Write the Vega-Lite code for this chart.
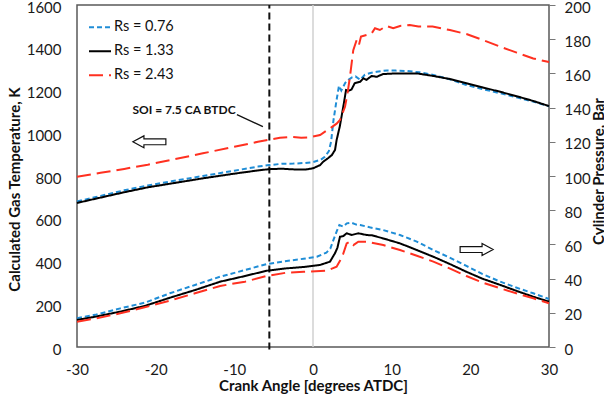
{
  "$schema": "https://vega.github.io/schema/vega-lite/v6.json",
  "width": 472,
  "height": 342,
  "autosize": "none",
  "padding": {"left": 77, "top": 5, "right": 55, "bottom": 51},
  "background": "white",
  "config": {
    "font": "Lato",
    "view": {"stroke": "#5a5a5a", "strokeWidth": 1.5},
    "axis": {"grid": false, "domain": false, "labelFont": "Lato", "labelFontSize": 15, "labelColor": "#1a1a1a", "titleFont": "Lato", "titleFontSize": 15, "titleFontWeight": "bold", "titleColor": "#111111"}
  },
  "datasets": {
    "temp": [
      {"Rs": "Rs = 0.76", "x": -30, "v": 681}, {"Rs": "Rs = 0.76", "x": -27, "v": 707}, {"Rs": "Rs = 0.76", "x": -24, "v": 733}, {"Rs": "Rs = 0.76", "x": -21, "v": 756}, {"Rs": "Rs = 0.76", "x": -18, "v": 775}, {"Rs": "Rs = 0.76", "x": -14, "v": 800}, {"Rs": "Rs = 0.76", "x": -10, "v": 825}, {"Rs": "Rs = 0.76", "x": -7, "v": 844}, {"Rs": "Rs = 0.76", "x": -5.6, "v": 851}, {"Rs": "Rs = 0.76", "x": -4, "v": 857}, {"Rs": "Rs = 0.76", "x": -2.5, "v": 858}, {"Rs": "Rs = 0.76", "x": -1, "v": 861}, {"Rs": "Rs = 0.76", "x": 0, "v": 865}, {"Rs": "Rs = 0.76", "x": 1, "v": 876}, {"Rs": "Rs = 0.76", "x": 1.5, "v": 890}, {"Rs": "Rs = 0.76", "x": 2, "v": 915}, {"Rs": "Rs = 0.76", "x": 2.3, "v": 960}, {"Rs": "Rs = 0.76", "x": 2.6, "v": 1060}, {"Rs": "Rs = 0.76", "x": 3.0, "v": 1156}, {"Rs": "Rs = 0.76", "x": 3.3, "v": 1222}, {"Rs": "Rs = 0.76", "x": 3.6, "v": 1200}, {"Rs": "Rs = 0.76", "x": 4.1, "v": 1236}, {"Rs": "Rs = 0.76", "x": 4.5, "v": 1250}, {"Rs": "Rs = 0.76", "x": 5.0, "v": 1262}, {"Rs": "Rs = 0.76", "x": 5.4, "v": 1266}, {"Rs": "Rs = 0.76", "x": 6.0, "v": 1250}, {"Rs": "Rs = 0.76", "x": 6.6, "v": 1274}, {"Rs": "Rs = 0.76", "x": 7.3, "v": 1282}, {"Rs": "Rs = 0.76", "x": 8.1, "v": 1288}, {"Rs": "Rs = 0.76", "x": 9.4, "v": 1294}, {"Rs": "Rs = 0.76", "x": 10.5, "v": 1293}, {"Rs": "Rs = 0.76", "x": 12, "v": 1291}, {"Rs": "Rs = 0.76", "x": 13.5, "v": 1285}, {"Rs": "Rs = 0.76", "x": 15.3, "v": 1273}, {"Rs": "Rs = 0.76", "x": 17.5, "v": 1251}, {"Rs": "Rs = 0.76", "x": 19.5, "v": 1226}, {"Rs": "Rs = 0.76", "x": 21.5, "v": 1207}, {"Rs": "Rs = 0.76", "x": 23.8, "v": 1187}, {"Rs": "Rs = 0.76", "x": 26, "v": 1167}, {"Rs": "Rs = 0.76", "x": 28, "v": 1148}, {"Rs": "Rs = 0.76", "x": 30, "v": 1126},
      {"Rs": "Rs = 1.33", "x": -30, "v": 674}, {"Rs": "Rs = 1.33", "x": -27, "v": 699}, {"Rs": "Rs = 1.33", "x": -24, "v": 724}, {"Rs": "Rs = 1.33", "x": -21, "v": 747}, {"Rs": "Rs = 1.33", "x": -18, "v": 765}, {"Rs": "Rs = 1.33", "x": -14, "v": 789}, {"Rs": "Rs = 1.33", "x": -10, "v": 811}, {"Rs": "Rs = 1.33", "x": -7, "v": 826}, {"Rs": "Rs = 1.33", "x": -5.6, "v": 832}, {"Rs": "Rs = 1.33", "x": -4, "v": 834}, {"Rs": "Rs = 1.33", "x": -2.5, "v": 831}, {"Rs": "Rs = 1.33", "x": -1, "v": 830}, {"Rs": "Rs = 1.33", "x": 0, "v": 836}, {"Rs": "Rs = 1.33", "x": 0.9, "v": 851}, {"Rs": "Rs = 1.33", "x": 1.3, "v": 867}, {"Rs": "Rs = 1.33", "x": 1.9, "v": 883}, {"Rs": "Rs = 1.33", "x": 2.4, "v": 898}, {"Rs": "Rs = 1.33", "x": 2.8, "v": 922}, {"Rs": "Rs = 1.33", "x": 3.0, "v": 968}, {"Rs": "Rs = 1.33", "x": 3.4, "v": 1031}, {"Rs": "Rs = 1.33", "x": 3.85, "v": 1124}, {"Rs": "Rs = 1.33", "x": 4.2, "v": 1202}, {"Rs": "Rs = 1.33", "x": 4.5, "v": 1198}, {"Rs": "Rs = 1.33", "x": 4.9, "v": 1205}, {"Rs": "Rs = 1.33", "x": 5.3, "v": 1234}, {"Rs": "Rs = 1.33", "x": 6.0, "v": 1241}, {"Rs": "Rs = 1.33", "x": 6.4, "v": 1257}, {"Rs": "Rs = 1.33", "x": 6.8, "v": 1250}, {"Rs": "Rs = 1.33", "x": 7.45, "v": 1268}, {"Rs": "Rs = 1.33", "x": 8.1, "v": 1264}, {"Rs": "Rs = 1.33", "x": 8.9, "v": 1277}, {"Rs": "Rs = 1.33", "x": 10.6, "v": 1280}, {"Rs": "Rs = 1.33", "x": 13.2, "v": 1280}, {"Rs": "Rs = 1.33", "x": 15.3, "v": 1268}, {"Rs": "Rs = 1.33", "x": 17.5, "v": 1253}, {"Rs": "Rs = 1.33", "x": 19.5, "v": 1234}, {"Rs": "Rs = 1.33", "x": 21.5, "v": 1215}, {"Rs": "Rs = 1.33", "x": 23.8, "v": 1194}, {"Rs": "Rs = 1.33", "x": 26, "v": 1172}, {"Rs": "Rs = 1.33", "x": 28, "v": 1151}, {"Rs": "Rs = 1.33", "x": 30, "v": 1127},
      {"Rs": "Rs = 2.43", "x": -30, "v": 796}, {"Rs": "Rs = 2.43", "x": -27, "v": 815}, {"Rs": "Rs = 2.43", "x": -24, "v": 833}, {"Rs": "Rs = 2.43", "x": -21, "v": 853}, {"Rs": "Rs = 2.43", "x": -18, "v": 876}, {"Rs": "Rs = 2.43", "x": -14, "v": 906}, {"Rs": "Rs = 2.43", "x": -10, "v": 937}, {"Rs": "Rs = 2.43", "x": -7, "v": 960}, {"Rs": "Rs = 2.43", "x": -5.6, "v": 970}, {"Rs": "Rs = 2.43", "x": -4.2, "v": 979}, {"Rs": "Rs = 2.43", "x": -2.9, "v": 983}, {"Rs": "Rs = 2.43", "x": -1.5, "v": 979}, {"Rs": "Rs = 2.43", "x": -0.4, "v": 981}, {"Rs": "Rs = 2.43", "x": 0.9, "v": 992}, {"Rs": "Rs = 2.43", "x": 2.16, "v": 1023}, {"Rs": "Rs = 2.43", "x": 3.0, "v": 1045}, {"Rs": "Rs = 2.43", "x": 3.43, "v": 1062}, {"Rs": "Rs = 2.43", "x": 4.07, "v": 1124}, {"Rs": "Rs = 2.43", "x": 4.4, "v": 1190}, {"Rs": "Rs = 2.43", "x": 4.7, "v": 1265}, {"Rs": "Rs = 2.43", "x": 5.12, "v": 1389}, {"Rs": "Rs = 2.43", "x": 5.55, "v": 1436}, {"Rs": "Rs = 2.43", "x": 5.84, "v": 1413}, {"Rs": "Rs = 2.43", "x": 6.1, "v": 1452}, {"Rs": "Rs = 2.43", "x": 6.8, "v": 1460}, {"Rs": "Rs = 2.43", "x": 7.45, "v": 1467}, {"Rs": "Rs = 2.43", "x": 7.88, "v": 1491}, {"Rs": "Rs = 2.43", "x": 8.5, "v": 1483}, {"Rs": "Rs = 2.43", "x": 9.35, "v": 1502}, {"Rs": "Rs = 2.43", "x": 10.2, "v": 1491}, {"Rs": "Rs = 2.43", "x": 11.06, "v": 1502}, {"Rs": "Rs = 2.43", "x": 12.3, "v": 1506}, {"Rs": "Rs = 2.43", "x": 13.4, "v": 1499}, {"Rs": "Rs = 2.43", "x": 15.2, "v": 1499}, {"Rs": "Rs = 2.43", "x": 17.4, "v": 1483}, {"Rs": "Rs = 2.43", "x": 19.5, "v": 1464}, {"Rs": "Rs = 2.43", "x": 21.6, "v": 1436}, {"Rs": "Rs = 2.43", "x": 23.8, "v": 1405}, {"Rs": "Rs = 2.43", "x": 25.9, "v": 1377}, {"Rs": "Rs = 2.43", "x": 28, "v": 1350}, {"Rs": "Rs = 2.43", "x": 30, "v": 1333}
    ],
    "pres": [
      {"Rs": "Rs = 0.76", "x": -30, "v": 16.8}, {"Rs": "Rs = 0.76", "x": -27.7, "v": 18.8}, {"Rs": "Rs = 0.76", "x": -24.5, "v": 22.6}, {"Rs": "Rs = 0.76", "x": -21.4, "v": 25.9}, {"Rs": "Rs = 0.76", "x": -18.2, "v": 31.4}, {"Rs": "Rs = 0.76", "x": -15, "v": 36.3}, {"Rs": "Rs = 0.76", "x": -11.8, "v": 41.1}, {"Rs": "Rs = 0.76", "x": -8.65, "v": 45}, {"Rs": "Rs = 0.76", "x": -5.9, "v": 48.5}, {"Rs": "Rs = 0.76", "x": -3.35, "v": 50.3}, {"Rs": "Rs = 0.76", "x": -1.2, "v": 51.6}, {"Rs": "Rs = 0.76", "x": 0.5, "v": 52.8}, {"Rs": "Rs = 0.76", "x": 1.7, "v": 55.2}, {"Rs": "Rs = 0.76", "x": 2.2, "v": 57.5}, {"Rs": "Rs = 0.76", "x": 2.6, "v": 62.6}, {"Rs": "Rs = 0.76", "x": 3.0, "v": 67.5}, {"Rs": "Rs = 0.76", "x": 3.35, "v": 71.3}, {"Rs": "Rs = 0.76", "x": 3.86, "v": 70.4}, {"Rs": "Rs = 0.76", "x": 4.3, "v": 72.3}, {"Rs": "Rs = 0.76", "x": 4.9, "v": 72.7}, {"Rs": "Rs = 0.76", "x": 5.5, "v": 71.6}, {"Rs": "Rs = 0.76", "x": 6.0, "v": 71.3}, {"Rs": "Rs = 0.76", "x": 7.2, "v": 70}, {"Rs": "Rs = 0.76", "x": 8.9, "v": 68.4}, {"Rs": "Rs = 0.76", "x": 11.06, "v": 65.5}, {"Rs": "Rs = 0.76", "x": 13.2, "v": 61.6}, {"Rs": "Rs = 0.76", "x": 15.3, "v": 56.7}, {"Rs": "Rs = 0.76", "x": 17.5, "v": 52}, {"Rs": "Rs = 0.76", "x": 19.5, "v": 47.4}, {"Rs": "Rs = 0.76", "x": 21.5, "v": 42.8}, {"Rs": "Rs = 0.76", "x": 23.8, "v": 38.2}, {"Rs": "Rs = 0.76", "x": 26, "v": 34.5}, {"Rs": "Rs = 0.76", "x": 28, "v": 31.4}, {"Rs": "Rs = 0.76", "x": 30, "v": 28.1},
      {"Rs": "Rs = 1.33", "x": -30, "v": 15.8}, {"Rs": "Rs = 1.33", "x": -27.7, "v": 17.7}, {"Rs": "Rs = 1.33", "x": -24.5, "v": 20.7}, {"Rs": "Rs = 1.33", "x": -21.4, "v": 24}, {"Rs": "Rs = 1.33", "x": -18.2, "v": 28.8}, {"Rs": "Rs = 1.33", "x": -15, "v": 33.3}, {"Rs": "Rs = 1.33", "x": -11.8, "v": 38.2}, {"Rs": "Rs = 1.33", "x": -8.65, "v": 41.5}, {"Rs": "Rs = 1.33", "x": -5.9, "v": 44.6}, {"Rs": "Rs = 1.33", "x": -3.35, "v": 46}, {"Rs": "Rs = 1.33", "x": -1.2, "v": 46.8}, {"Rs": "Rs = 1.33", "x": 0.9, "v": 48}, {"Rs": "Rs = 1.33", "x": 2.16, "v": 49.9}, {"Rs": "Rs = 1.33", "x": 2.79, "v": 54.8}, {"Rs": "Rs = 1.33", "x": 3.1, "v": 58}, {"Rs": "Rs = 1.33", "x": 3.43, "v": 64.5}, {"Rs": "Rs = 1.33", "x": 3.86, "v": 64.9}, {"Rs": "Rs = 1.33", "x": 4.28, "v": 66.5}, {"Rs": "Rs = 1.33", "x": 4.92, "v": 65.5}, {"Rs": "Rs = 1.33", "x": 5.76, "v": 66.5}, {"Rs": "Rs = 1.33", "x": 6.81, "v": 65.5}, {"Rs": "Rs = 1.33", "x": 7.5, "v": 65.3}, {"Rs": "Rs = 1.33", "x": 8.93, "v": 63.5}, {"Rs": "Rs = 1.33", "x": 11.06, "v": 60.6}, {"Rs": "Rs = 1.33", "x": 13.2, "v": 56.7}, {"Rs": "Rs = 1.33", "x": 15.3, "v": 52.8}, {"Rs": "Rs = 1.33", "x": 17.5, "v": 48.3}, {"Rs": "Rs = 1.33", "x": 19.5, "v": 44}, {"Rs": "Rs = 1.33", "x": 21.5, "v": 40}, {"Rs": "Rs = 1.33", "x": 23.8, "v": 36.3}, {"Rs": "Rs = 1.33", "x": 26, "v": 32.6}, {"Rs": "Rs = 1.33", "x": 28, "v": 29.4}, {"Rs": "Rs = 1.33", "x": 30, "v": 26.5},
      {"Rs": "Rs = 2.43", "x": -30, "v": 14.8}, {"Rs": "Rs = 2.43", "x": -27.7, "v": 16.6}, {"Rs": "Rs = 2.43", "x": -24.5, "v": 19.7}, {"Rs": "Rs = 2.43", "x": -21.4, "v": 23.2}, {"Rs": "Rs = 2.43", "x": -18.2, "v": 27.1}, {"Rs": "Rs = 2.43", "x": -15, "v": 31.4}, {"Rs": "Rs = 2.43", "x": -11.8, "v": 35.7}, {"Rs": "Rs = 2.43", "x": -8.65, "v": 38.2}, {"Rs": "Rs = 2.43", "x": -5.9, "v": 41.5}, {"Rs": "Rs = 2.43", "x": -3.35, "v": 43.5}, {"Rs": "Rs = 2.43", "x": -1.2, "v": 44}, {"Rs": "Rs = 2.43", "x": 1.74, "v": 44.6}, {"Rs": "Rs = 2.43", "x": 3.0, "v": 47}, {"Rs": "Rs = 2.43", "x": 3.5, "v": 51}, {"Rs": "Rs = 2.43", "x": 3.86, "v": 54.8}, {"Rs": "Rs = 2.43", "x": 4.28, "v": 60.6}, {"Rs": "Rs = 2.43", "x": 4.7, "v": 61.6}, {"Rs": "Rs = 2.43", "x": 5.13, "v": 59.6}, {"Rs": "Rs = 2.43", "x": 5.76, "v": 61.6}, {"Rs": "Rs = 2.43", "x": 6.81, "v": 61.6}, {"Rs": "Rs = 2.43", "x": 8.93, "v": 59.6}, {"Rs": "Rs = 2.43", "x": 11.06, "v": 56.7}, {"Rs": "Rs = 2.43", "x": 13.2, "v": 53.4}, {"Rs": "Rs = 2.43", "x": 15.3, "v": 49.9}, {"Rs": "Rs = 2.43", "x": 17.5, "v": 45.7}, {"Rs": "Rs = 2.43", "x": 19.5, "v": 41.5}, {"Rs": "Rs = 2.43", "x": 21.5, "v": 37.8}, {"Rs": "Rs = 2.43", "x": 23.8, "v": 34.3}, {"Rs": "Rs = 2.43", "x": 26, "v": 31.2}, {"Rs": "Rs = 2.43", "x": 28, "v": 28.5}, {"Rs": "Rs = 2.43", "x": 30, "v": 25.6}
    ]
  },
  "layer": [
    {
      "encoding": {
        "x": {"field": "x", "type": "quantitative", "scale": {"domain": [-30, 30], "nice": false, "zero": false}, "axis": {"title": "Crank Angle [degrees ATDC]", "values": [-30, -20, -10, 0, 10, 20, 30], "labelExpr": "'' + datum.value", "ticks": false, "labelPadding": 15, "titleBaseline": "alphabetic", "titleY": 43, "labelFlush": false}},
        "y": {"field": "v", "type": "quantitative", "scale": {"domain": [0, 1600], "nice": false, "zero": false}, "axis": {"title": "Calculated Gas Temperature,  K", "values": [0, 200, 400, 600, 800, 1000, 1200, 1400, 1600], "labelExpr": "'' + datum.value", "ticks": false, "labelPadding": 16, "labelOffset": 2, "titleAngle": 270, "titleAlign": "center", "titleBaseline": "middle", "titleX": -63, "titleY": 184}}
      },
      "layer": [
        {
          "data": {"values": [{"x": 0, "v": 0, "v2": 1600}]},
          "mark": {"type": "rule", "color": "#d0d0d0", "strokeWidth": 1.5},
          "encoding": {"y2": {"field": "v2"}}
        },
        {
          "data": {"values": [{"x": -5.55, "v": -12, "v2": 1600}]},
          "mark": {"type": "rule", "color": "#111111", "strokeWidth": 2, "strokeDash": [7, 4]},
          "encoding": {"y2": {"field": "v2"}}
        },
        {
          "data": {"name": "temp"},
          "mark": {"type": "line", "strokeWidth": 2},
          "encoding": {
            "color": {"field": "Rs", "type": "nominal", "scale": {"domain": ["Rs = 0.76", "Rs = 1.33", "Rs = 2.43"], "range": ["#1f8dd6", "#000000", "#ff3020"]}, "legend": {"title": null, "orient": "none", "legendX": 11, "legendY": 10.5, "labelFont": "Lato", "labelFontSize": 14.5, "labelColor": "#111111", "symbolType": "stroke", "symbolSize": 484, "symbolStrokeWidth": 2, "clipHeight": 23.5, "rowPadding": 0, "padding": 0, "labelOffset": 2}},
            "strokeDash": {"field": "Rs", "type": "nominal", "scale": {"domain": ["Rs = 0.76", "Rs = 1.33", "Rs = 2.43"], "range": [[5, 3], [1, 0], [14, 6]]}, "legend": {"title": null, "orient": "none", "legendX": 11, "legendY": 10.5, "labelFont": "Lato", "labelFontSize": 14.5, "labelColor": "#111111", "symbolType": "stroke", "symbolSize": 484, "symbolStrokeWidth": 2, "clipHeight": 23.5, "rowPadding": 0, "padding": 0, "labelOffset": 2}}
          }
        },
        {
          "data": {"values": [{"x": -9.67, "v": 1087, "x2": -6.37, "v2": 1031}]},
          "mark": {"type": "rule", "color": "#111111", "strokeWidth": 1.3},
          "encoding": {"x2": {"field": "x2"}, "y2": {"field": "v2"}}
        },
        {
          "data": {"values": [{"x": -16.4, "v": 1110, "label": "SOI = 7.5 CA BTDC"}]},
          "mark": {"type": "text", "font": "Lato", "fontSize": 12, "fontWeight": "bold", "color": "#111111", "align": "center", "baseline": "middle"},
          "encoding": {"text": {"field": "label"}}
        },
        {
          "data": {"values": [{"x": -20.8, "v": 960}]},
          "mark": {"type": "point", "shape": "M-1,0L-0.33,-0.36L-0.33,-0.18L1,-0.18L1,0.18L-0.33,0.18L-0.33,0.36Z", "size": 1089, "filled": true, "fill": "white", "stroke": "#111111", "strokeWidth": 1.2, "opacity": 1}
        }
      ]
    },
    {
      "encoding": {
        "x": {"field": "x", "type": "quantitative", "scale": {"domain": [-30, 30], "nice": false, "zero": false}},
        "y": {"field": "v", "type": "quantitative", "scale": {"domain": [0, 200], "nice": false, "zero": false}, "axis": {"orient": "right", "title": "Cylinder Pressure, Bar", "values": [0, 20, 40, 60, 80, 100, 120, 140, 160, 180, 200], "ticks": true, "tickSize": 6, "tickColor": "#777777", "labelPadding": 9, "labelOffset": 2, "titleAngle": 270, "titleAlign": "center", "titleBaseline": "middle", "titleX": 49, "titleY": 166}}
      },
      "layer": [
        {
          "data": {"name": "pres"},
          "mark": {"type": "line", "strokeWidth": 2},
          "encoding": {
            "color": {"field": "Rs", "type": "nominal"},
            "strokeDash": {"field": "Rs", "type": "nominal"}
          }
        },
        {
          "data": {"values": [{"x": 20.8, "v": 57}]},
          "mark": {"type": "point", "shape": "M1,0L0.33,-0.36L0.33,-0.18L-1,-0.18L-1,0.18L0.33,0.18L0.33,0.36Z", "size": 1089, "filled": true, "fill": "white", "stroke": "#111111", "strokeWidth": 1.2, "opacity": 1}
        }
      ]
    }
  ],
  "resolve": {"scale": {"y": "independent"}}
}
